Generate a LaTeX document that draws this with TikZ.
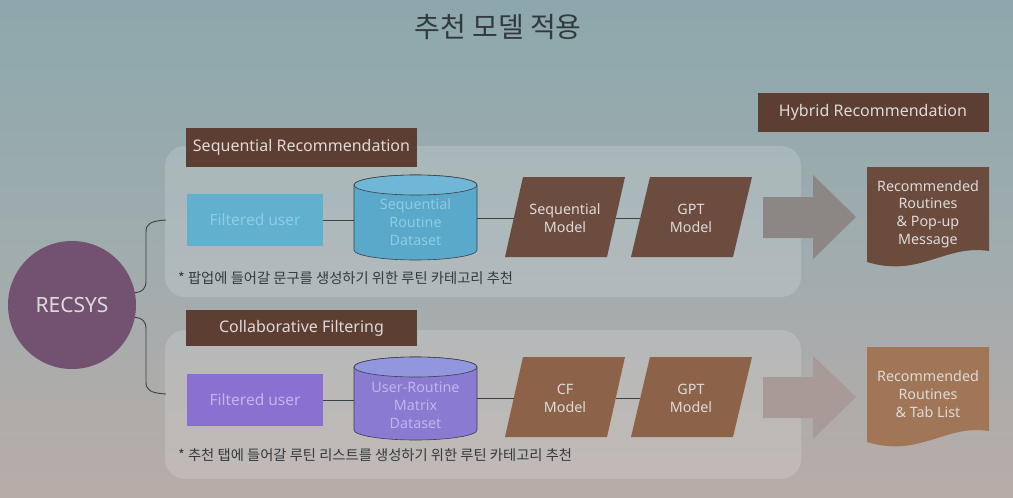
\documentclass[tikz,border=0pt]{standalone}
\usepackage{fontspec}
\setmainfont{Noto Sans}
\newfontfamily\kr{Noto Sans CJK KR}
\definecolor{bgtop}{RGB}{140,168,172}
\definecolor{bgmid}{RGB}{160,172,174}
\definecolor{bgbot}{RGB}{184,172,168}
\definecolor{hdr}{RGB}{92,62,50}
\definecolor{modA}{RGB}{108,76,62}
\definecolor{modB}{RGB}{140,99,72}
\definecolor{docA}{RGB}{106,75,60}
\definecolor{docB}{RGB}{160,118,86}
\definecolor{blueBox}{RGB}{96,176,206}
\definecolor{blueTxt}{RGB}{140,205,228}
\definecolor{blueCyl}{RGB}{90,168,202}
\definecolor{blueTop}{RGB}{112,182,214}
\definecolor{purBox}{RGB}{138,112,208}
\definecolor{purTxt}{RGB}{192,182,236}
\definecolor{purCyl}{RGB}{138,122,210}
\definecolor{purTop}{RGB}{146,150,222}
\definecolor{recc}{RGB}{114,82,112}
\definecolor{lighttxt}{RGB}{222,218,218}
\definecolor{linec}{RGB}{58,66,70}
\definecolor{arrA}{RGB}{140,134,132}
\definecolor{arrB}{RGB}{168,154,150}
\definecolor{titlec}{RGB}{50,58,62}
\definecolor{notec}{RGB}{52,58,62}
\begin{document}
\begin{tikzpicture}[x=1pt,y=-1pt,
  box/.style={rectangle, inner sep=0pt, align=center},
  hdrbox/.style={box, fill=hdr, text=lighttxt, minimum width=231pt, minimum height=39pt, font=\fontsize{16}{19}\selectfont},
  txt/.style={box, font=\fontsize{14.3}{17.8}\selectfont, align=center},
  conn/.style={draw=linec, line width=0.7pt},
  brace/.style={draw=linec, line width=0.9pt},
  note/.style={font=\kr\fontsize{14.3}{16}\selectfont, text=notec, anchor=west, inner sep=0pt},
  panel/.style={fill=white, fill opacity=0.16, rounded corners=20pt}
]
\useasboundingbox (0,0) rectangle (1013,498);
\shade[top color=bgtop, bottom color=bgmid] (0,0) rectangle (1013,250);
\shade[top color=bgmid, bottom color=bgbot] (0,250) rectangle (1013,498);

% title
\node[font=\kr\fontsize{28}{32}\selectfont, text=titlec] (title) at (498,27) {추천 모델 적용};

% panels
\fill[panel] (165,146) rectangle (801,297);
\fill[panel] (165,330) rectangle (801,479);

% headers
\node[hdrbox] (seqhdr) at (301.5,147) {Sequential Recommendation};
\node[hdrbox, minimum height=36pt] (cfhdr) at (301.5,328) {Collaborative Filtering};
\node[hdrbox] (hybhdr) at (873,112) {Hybrid Recommendation};

% RECSYS
\node[circle, fill=recc, minimum size=128pt, inner sep=0pt, text=lighttxt, font=\fontsize{21}{25}\selectfont] (recsys) at (72,305) {RECSYS};
\coordinate (topend) at (166,220);
\coordinate (botend) at (166,394);
\draw[brace] (recsys.11) .. controls (142,292) and (146,289) .. (146,281) -- (146,232) .. controls (146,224) and (150,221) .. (topend);
\draw[brace] (recsys.-11) .. controls (142,318) and (146,321) .. (146,329) -- (146,382) .. controls (146,390) and (150,393) .. (botend);

% ---------- top row ----------
\node[box, fill=blueBox, minimum width=136pt, minimum height=52pt, text=blueTxt, font=\fontsize{15.5}{18}\selectfont] (fu1) at (255,220) {Filtered user};
% cylinder 1
\filldraw[fill=blueCyl, draw=linec, line width=0.6pt] (354,185) -- (354,250) arc[start angle=180, end angle=360, x radius=61.5pt, y radius=10pt] -- (477,185) arc[start angle=0, end angle=180, x radius=61.5pt, y radius=10pt] -- cycle;
\filldraw[fill=blueTop, draw=linec, line width=0.6pt] (415.5,185) ellipse[x radius=61.5pt, y radius=10pt];
\node[txt, text=blueTxt, minimum width=123pt, minimum height=60pt] (cyl1) at (415.5,222) {Sequential\\Routine\\Dataset};
% parallelograms
\fill[modA] (523,177) -- (625,177) -- (607,257) -- (505,257) -- cycle;
\fill[modA] (650,177) -- (752,177) -- (733,257) -- (631,257) -- cycle;
\node[txt, text=lighttxt, minimum width=102pt, minimum height=40pt] (sm1) at (565,218) {Sequential\\Model};
\node[txt, text=lighttxt, minimum width=102pt, minimum height=40pt] (gpt1) at (691,218) {GPT\\Model};
\draw[conn] (fu1.east) -- (fu1.east -| cyl1.west);
\draw[conn] (cyl1.east |- sm1.west) -- (sm1.west);
\draw[conn] (sm1.east) -- (gpt1.west);
% big arrow
\fill[arrA] (763,197) -- (813,197) -- (813,175) -- (856,217) -- (813,259) -- (813,238) -- (763,238) -- cycle;
% document
\fill[docA] (867,167) -- (989,167) -- (989,251) .. controls (945,244) and (920,278) .. (867,262) -- cycle;
\node[txt, text=lighttxt, minimum width=122pt] (out1) at (928,214) {Recommended\\Routines\\\&~Pop-up\\Message};
\node[note] (note1) at (178,278) {* 팝업에 들어갈 문구를 생성하기 위한 루틴 카테고리 추천};

% ---------- bottom row ----------
\node[box, fill=purBox, minimum width=136pt, minimum height=52pt, text=purTxt, font=\fontsize{15.5}{18}\selectfont] (fu2) at (255,400) {Filtered user};
\filldraw[fill=purCyl, draw=linec, line width=0.6pt] (354,367) -- (354,430) arc[start angle=180, end angle=360, x radius=61.5pt, y radius=10pt] -- (477,367) arc[start angle=0, end angle=180, x radius=61.5pt, y radius=10pt] -- cycle;
\filldraw[fill=purTop, draw=linec, line width=0.6pt] (415.5,367) ellipse[x radius=61.5pt, y radius=10pt];
\node[txt, text=purTxt, minimum width=123pt, minimum height=60pt] (cyl2) at (415.5,405) {User-Routine\\Matrix\\Dataset};
\fill[modB] (523,357) -- (625,357) -- (607,437) -- (505,437) -- cycle;
\fill[modB] (650,357) -- (752,357) -- (733,437) -- (631,437) -- cycle;
\node[txt, text=lighttxt, minimum width=102pt, minimum height=40pt] (cf2) at (565,398) {CF\\Model};
\node[txt, text=lighttxt, minimum width=102pt, minimum height=40pt] (gpt2) at (691,398) {GPT\\Model};
\draw[conn] (fu2.east) -- (fu2.east -| cyl2.west);
\draw[conn] (cyl2.east |- cf2.west) -- (cf2.west);
\draw[conn] (cf2.east) -- (gpt2.west);
\fill[arrB] (763,377) -- (813,377) -- (813,356) -- (856,397) -- (813,439) -- (813,418) -- (763,418) -- cycle;
\fill[docB] (867,347) -- (989,347) -- (989,431) .. controls (945,424) and (920,458) .. (867,442) -- cycle;
\node[txt, text=lighttxt, minimum width=122pt] (out2) at (928,394) {Recommended\\Routines\\\&~Tab List};
\node[note] (note2) at (178,455) {* 추천 탭에 들어갈 루틴 리스트를 생성하기 위한 루틴 카테고리 추천};
\end{tikzpicture}
\end{document}
